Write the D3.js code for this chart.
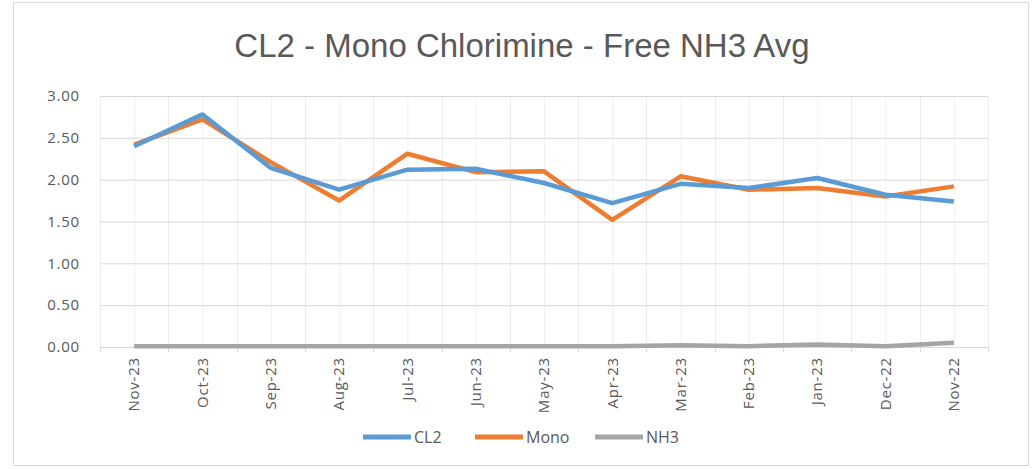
<!doctype html>
<html>
<head>
<meta charset="UTF-8">
<title>CL2 - Mono Chlorimine - Free NH3 Avg</title>
<script src="https://cdnjs.cloudflare.com/ajax/libs/d3/7.8.5/d3.min.js"></script>
<style>
  body { margin: 0; background: #fff; }
  svg { display: block; }
</style>
</head>
<body>
<svg id="chart"></svg>
<script>
(function(){
  'use strict'

  // data
  const months = ['Nov-23','Oct-23','Sep-23','Aug-23','Jul-23','Jun-23','May-23','Apr-23','Mar-23','Feb-23','Jan-23','Dec-22','Nov-22'];
  const cl2  = [2.40, 2.78, 2.14, 1.88, 2.12, 2.13, 1.96, 1.72, 1.95, 1.90, 2.02, 1.82, 1.74];
  const mono = [2.42, 2.72, 2.21, 1.75, 2.31, 2.09, 2.10, 1.52, 2.04, 1.88, 1.90, 1.80, 1.92];
  const nh3  = [0.01, 0.01, 0.01, 0.01, 0.01, 0.01, 0.01, 0.01, 0.02, 0.01, 0.03, 0.01, 0.05];
  const yTicks = [0, 0.5, 1, 1.5, 2, 2.5, 3];

  const series = [
    {name: 'CL2',  values: cl2,  color: '#5b9bd5'},
    {name: 'Mono', values: mono, color: '#ed7d31'},
    {name: 'NH3',  values: nh3,  color: '#a5a5a5'}
  ];

  const width = 1033, height = 469;
  const margin = {top: 96, right: 45, bottom: 122, left: 100};
  const plotW = width - margin.left - margin.right;
  const plotH = height - margin.top - margin.bottom;
  const tickFont = '"Open Sans", "DejaVu Sans", sans-serif';

  const svg = d3.select('#chart').attr('width', width).attr('height', height);

  // chart border
  svg.append('rect')
     .attr('x', 13.5).attr('y', 2.5)
     .attr('width', 1015).attr('height', 463)
     .attr('fill', '#fff').attr('stroke', '#d9d9d9');

  svg.append('text')
     .attr('x', 522).attr('y', 57)
     .attr('text-anchor', 'middle')
     .attr('font-family', 'Arial, "Liberation Sans", sans-serif')
     .attr('font-size', 33)
     .attr('fill', '#595959')
     .text('CL2 - Mono Chlorimine - Free NH3 Avg');

  const g = svg.append('g').attr('transform', 'translate(' + margin.left + ',' + margin.top + ')');

  const x = d3.scaleBand().domain(months).range([0, plotW]);
  const y = d3.scaleLinear().domain([0, 3]).range([plotH, 0]);
  const cx = function(m){ return x(m) + x.bandwidth() / 2; };

  // minor vertical gridlines at category centres
  g.append('g').selectAll('line').data(months).join('line')
     .attr('x1', d => cx(d) + 0.5).attr('x2', d => cx(d) + 0.5)
     .attr('y1', 0).attr('y2', plotH)
     .attr('stroke', '#f0f0f0');

  // major vertical gridlines at category boundaries
  const bounds = months.map(m => x(m)).concat([plotW]);
  g.append('g').selectAll('line').data(bounds).join('line')
     .attr('x1', d => Math.round(d) + 0.5).attr('x2', d => Math.round(d) + 0.5)
     .attr('y1', 0).attr('y2', plotH)
     .attr('stroke', '#ececec');

  // horizontal gridlines + y labels
  const yAxis = g.append('g')
     .call(d3.axisLeft(y).tickValues(yTicks).tickSize(-plotW).tickFormat(d3.format('.2f')));
  yAxis.select('.domain').remove();
  yAxis.selectAll('.tick line').attr('stroke', '#d9d9d9');
  yAxis.selectAll('.tick text')
     .attr('x', -20)
     .attr('fill', '#595959')
     .attr('font-family', tickFont)
     .attr('font-size', 15)
     .attr('letter-spacing', 0.8);

  // x axis
  const xAxis = g.append('g')
     .attr('transform', 'translate(0,' + plotH + ')')
     .call(d3.axisBottom(x).tickSize(0));
  xAxis.select('.domain').attr('stroke', '#d9d9d9');
  xAxis.selectAll('.tick text')
     .attr('transform', 'rotate(-90)')
     .attr('x', -10).attr('y', 0).attr('dy', '0.35em')
     .attr('text-anchor', 'end')
     .attr('fill', '#595959')
     .attr('font-family', tickFont)
     .attr('font-size', 15)
     .attr('letter-spacing', 0.8);
  g.append('g').selectAll('line').data(bounds).join('line')
     .attr('x1', d => Math.round(d) + 0.5).attr('x2', d => Math.round(d) + 0.5)
     .attr('y1', plotH).attr('y2', plotH + 5)
     .attr('stroke', '#d9d9d9');

  // series lines
  const line = d3.line()
     .x((d, i) => cx(months[i]))
     .y(d => y(d));

  series.slice().reverse().forEach(function(s){
    g.append('path')
       .datum(s.values)
       .attr('fill', 'none')
       .attr('stroke', s.color)
       .attr('stroke-width', 4.5)
       .attr('stroke-linejoin', 'round')
       .attr('d', line);
  });

  // legend
  const legendX = [363, 475, 595];
  const legend = svg.append('g').selectAll('g').data(series).join('g')
     .attr('transform', (d, i) => 'translate(' + legendX[i] + ',437)');
  legend.append('line')
     .attr('x1', 0).attr('x2', 48)
     .attr('stroke', d => d.color)
     .attr('stroke-width', 5);
  legend.append('text')
     .attr('x', 51).attr('dy', '0.35em')
     .attr('fill', '#595959')
     .attr('font-family', tickFont)
     .attr('font-size', 16)
     .text(d => d.name);
})();
</script>
</body>
</html>
